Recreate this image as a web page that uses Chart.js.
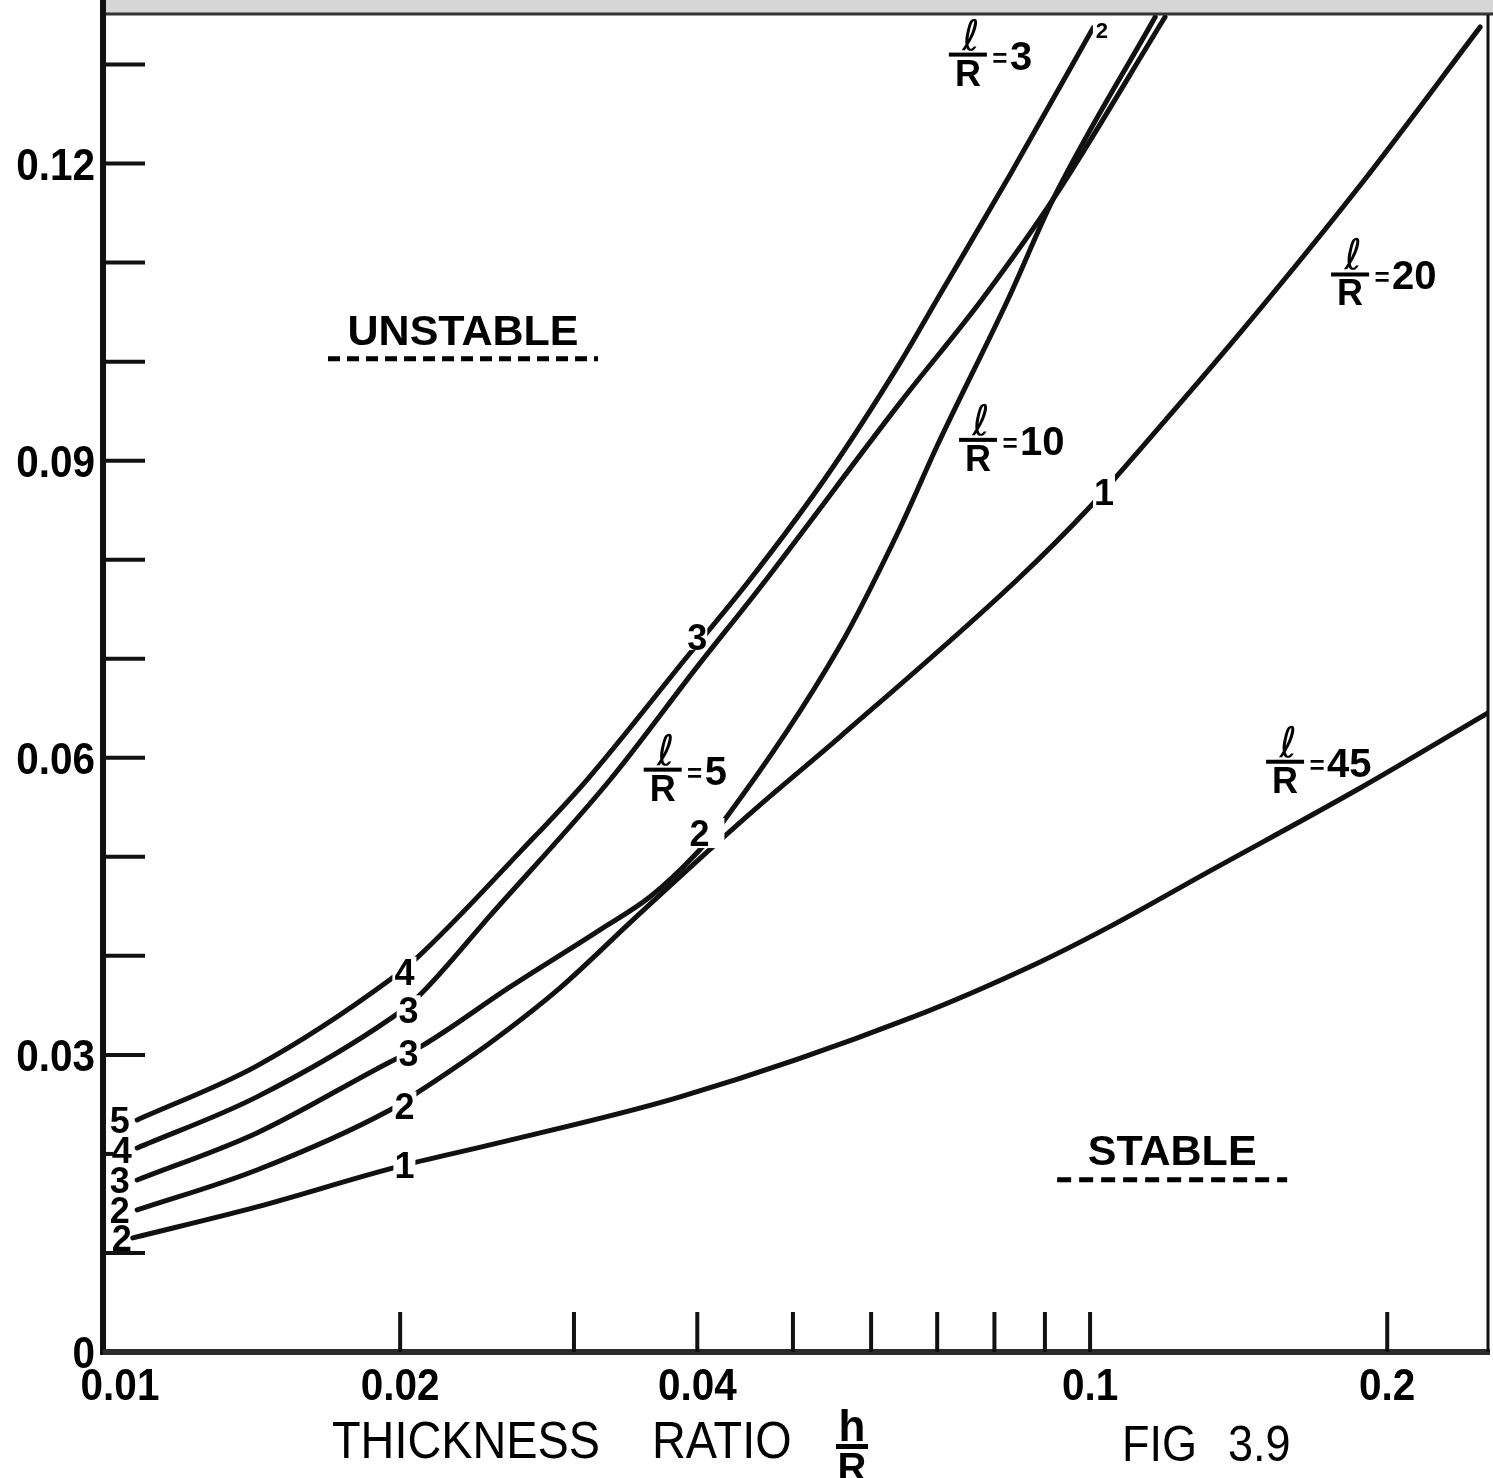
<!DOCTYPE html>
<html>
<head>
<meta charset="utf-8">
<title>Fig 3.9</title>
<script src="https://cdn.jsdelivr.net/npm/chart.js@4.4.0/dist/chart.umd.min.js"></script>
<style>
  html, body { margin: 0; padding: 0; background: #fff; }
  #wrap { width: 1493px; height: 1478px; }
</style>
</head>
<body>
<div id="wrap"><canvas id="fig" width="1493" height="1478"></canvas></div>
<script>
// curves: h/R (log axis) and the stability value
const hR_3  = [0.01083, 0.01432, 0.01953, 0.02085, 0.02646, 0.03093, 0.03906, 0.04524, 0.05389, 0.06421, 0.07, 0.083, 0.1007];
const val_3 = [0.02343, 0.02889, 0.03758, 0.0399, 0.0505, 0.05778, 0.0702, 0.078, 0.0882, 0.0999, 0.1063, 0.1189, 0.1337];

const hR_5  = [0.01083, 0.01432, 0.01967, 0.02085, 0.02466, 0.03264, 0.04, 0.04631, 0.06421, 0.07774, 0.09174, 0.1191];
const val_5 = [0.0206, 0.02576, 0.03384, 0.03586, 0.04404, 0.05778, 0.0692, 0.0772, 0.09586, 0.1063, 0.1164, 0.1348];

const hR_10  = [0.01083, 0.01432, 0.01953, 0.02096, 0.02585, 0.03188, 0.03583, 0.0398, 0.04249, 0.0558, 0.06421, 0.07, 0.08259, 0.09174, 0.1164];
const val_10 = [0.01737, 0.02212, 0.02929, 0.03081, 0.03687, 0.04263, 0.04596, 0.0502, 0.05354, 0.0713, 0.08323, 0.0915, 0.1063, 0.1164, 0.1348];

const hR_20  = [0.01083, 0.01432, 0.01953, 0.0208, 0.02466, 0.02904, 0.03443, 0.0419, 0.04631, 0.0558, 0.08436, 0.1, 0.1072, 0.1419, 0.1864, 0.2485];
const val_20 = [0.01434, 0.01838, 0.02444, 0.02616, 0.03121, 0.03677, 0.04364, 0.05141, 0.05525, 0.06212, 0.07798, 0.08535, 0.08879, 0.1029, 0.1174, 0.1338];

const hR_45  = [0.01072, 0.01432, 0.01986, 0.02466, 0.03843, 0.06619, 0.08899, 0.1055, 0.1301, 0.1864, 0.2561];
const val_45 = [0.01152, 0.01465, 0.01869, 0.02091, 0.02576, 0.03384, 0.03939, 0.04313, 0.04818, 0.05677, 0.06485];

const ratioNames = ['3', '5', '10', '20', '45'];

// axes
const yLabelValues = [0, 0.03, 0.06, 0.09, 0.12];
const yLabelTexts  = ['0', '0.03', '0.06', '0.09', '0.12'];
const yTickValues  = [0.01, 0.02, 0.03, 0.04, 0.05, 0.06, 0.07, 0.08, 0.09, 0.10, 0.11, 0.12, 0.13];
const xLabelValues = [0.01, 0.02, 0.04, 0.1, 0.2];
const xLabelTexts  = ['0.01', '0.02', '0.04', '0.1', '0.2'];
const xTickValues  = [0.02, 0.03, 0.04, 0.05, 0.06, 0.07, 0.08, 0.09, 0.1, 0.2];

// mode numbers written along the curves (text annotations, data coords)
const modeLabels = [
  { t: '5', x: 0.0104, y: 0.0234 },
  { t: '4', x: 0.01045, y: 0.0204 },
  { t: '3', x: 0.0104, y: 0.0174 },
  { t: '2', x: 0.0104, y: 0.0143 },
  { t: '2', x: 0.01045, y: 0.0115 },
  { t: '4', x: 0.0202, y: 0.0384, box: [24, 30] },
  { t: '3', x: 0.0204, y: 0.0345, box: [24, 30] },
  { t: '3', x: 0.0204, y: 0.0302, box: [24, 30] },
  { t: '2', x: 0.0202, y: 0.0248, box: [24, 30] },
  { t: '1', x: 0.0202, y: 0.0189, box: [22, 30] },
  { t: '3', x: 0.04, y: 0.0722, box: [20, 26] },
  { t: '2', x: 0.0402, y: 0.0524, box: [36, 30], dx: 7 },
  { t: '1', x: 0.1033, y: 0.0868, box: [22, 36] },
  { t: '2', x: 0.1028, y: 0.1335, box: [18, 18], size: 22 }
];

// l/R captions: centre of the fraction bar
const ratioCaptions = [
  { n: '3',  x: 0.0752, y: 0.1310 },
  { n: '5',  x: 0.0369, y: 0.0588 },
  { n: '10', x: 0.0770, y: 0.0921 },
  { n: '20', x: 0.1834, y: 0.1088 },
  { n: '45', x: 0.1576, y: 0.0596 }
];

const regionLabels = [
  { t: 'UNSTABLE', x: 0.02316, y: 0.1017, lineY: 0.1003, w: 270, dash: [12, 7] },
  { t: 'STABLE',   x: 0.1211,  y: 0.0189, lineY: 0.0174, w: 230, dash: [14, 8] }
];

const curveX = [hR_3, hR_5, hR_10, hR_20, hR_45];
const curveY = [val_3, val_5, val_10, val_20, val_45];

const FONT = '"Liberation Sans", Arial, sans-serif';

function txt(ctx, s, x, y, font, align, sx) {
  ctx.save();
  ctx.font = font;
  ctx.textAlign = align || 'left';
  ctx.textBaseline = 'alphabetic';
  ctx.translate(x, y);
  ctx.scale(sx || 1, 1);
  ctx.fillText(s, 0, 0);
  ctx.restore();
}

function drawRatio(ctx, cx, cy, num) {
  ctx.fillStyle = '#000';
  ctx.fillRect(cx - 19, cy - 2, 38, 4);
  txt(ctx, 'ℓ', cx + 3, cy - 5, 'italic 42px "DejaVu Sans"', 'center');
  txt(ctx, 'R', cx, cy + 31, 'bold 36px ' + FONT, 'center');
  txt(ctx, '=', cx + 32, cy + 12, 'bold 26px ' + FONT, 'center');
  txt(ctx, num, cx + 42, cy + 15, 'bold 40px ' + FONT, 'left');
}

const paper = {
  id: 'paper',
  beforeDraw(chart) {
    const ctx = chart.ctx;
    ctx.save();
    ctx.fillStyle = '#fff';
    ctx.fillRect(0, 0, chart.width, chart.height);
    ctx.restore();
  },
  afterDraw(chart) {
    const ctx = chart.ctx;
    const xs = chart.scales.x, ys = chart.scales.y;
    const L = xs.getPixelForValue(xs.min), R = xs.getPixelForValue(xs.max);
    const B = ys.getPixelForValue(0), T = ys.getPixelForValue(ys.max);
    ctx.save();

    // mode numbers, with a white gap cut into the line
    modeLabels.forEach(m => {
      const px = xs.getPixelForValue(m.x), py = ys.getPixelForValue(m.y);
      const size = m.size || 36;
      if (m.box) {
        ctx.fillStyle = '#fff';
        ctx.fillRect(px - m.box[0] / 2 + (m.dx || 0), py - m.box[1] / 2, m.box[0], m.box[1]);
      }
      ctx.fillStyle = '#000';
      txt(ctx, m.t, px, py + size * 0.36, 'bold ' + size + 'px ' + FONT, 'center');
    });

    ratioCaptions.forEach(c => {
      drawRatio(ctx, xs.getPixelForValue(c.x), ys.getPixelForValue(c.y), c.n);
    });

    regionLabels.forEach(r => {
      const px = xs.getPixelForValue(r.x);
      ctx.fillStyle = '#000';
      txt(ctx, r.t, px, ys.getPixelForValue(r.y), 'bold 43px ' + FONT, 'center');
      const ly = ys.getPixelForValue(r.lineY);
      ctx.strokeStyle = '#000';
      ctx.lineWidth = 5;
      ctx.setLineDash(r.dash);
      ctx.beginPath();
      ctx.moveTo(px - r.w / 2, ly);
      ctx.lineTo(px + r.w / 2, ly);
      ctx.stroke();
      ctx.setLineDash([]);
    });

    // top edge of the scanned sheet
    ctx.fillStyle = '#d6d6d6';
    ctx.fillRect(L, 0, chart.width - L, T - 2);
    ctx.strokeStyle = '#333';
    ctx.lineWidth = 3;
    ctx.beginPath();
    ctx.moveTo(L, T - 1);
    ctx.lineTo(chart.width, T - 1);
    ctx.stroke();

    // frame
    ctx.strokeStyle = '#111';
    ctx.lineWidth = 6;
    ctx.beginPath();
    ctx.moveTo(L, 0);
    ctx.lineTo(L, B + 3);
    ctx.stroke();
    ctx.strokeStyle = '#2b2b2b';
    ctx.beginPath();
    ctx.moveTo(L, B);
    ctx.lineTo(R + 2, B);
    ctx.stroke();
    ctx.strokeStyle = '#111';
    ctx.lineWidth = 3;
    ctx.beginPath();
    ctx.moveTo(R, T);
    ctx.lineTo(R, B);
    ctx.stroke();

    // inside tick marks (the 0.02 one is short, the mode labels sit on it)
    ctx.lineWidth = 4;
    yTickValues.forEach(v => {
      const py = ys.getPixelForValue(v);
      ctx.beginPath();
      ctx.moveTo(L, py);
      ctx.lineTo(L + (v === 0.02 ? 10 : 42), py);
      ctx.stroke();
    });
    xTickValues.forEach(v => {
      const px = xs.getPixelForValue(v);
      ctx.beginPath();
      ctx.moveTo(px, B);
      ctx.lineTo(px, B - 40);
      ctx.stroke();
    });

    // tick labels
    ctx.fillStyle = '#000';
    yLabelValues.forEach((v, i) => {
      const py = ys.getPixelForValue(v);
      txt(ctx, yLabelTexts[i], L - 8, py + 16, 'bold 44px ' + FONT, 'right', 0.92);
    });
    xLabelValues.forEach((v, i) => {
      const px = xs.getPixelForValue(v) + (i === 0 ? 17 : 0);
      txt(ctx, xLabelTexts[i], px, B + 48, 'bold 44px ' + FONT, 'center', 0.92);
    });

    // axis title and figure number
    txt(ctx, 'THICKNESS', 332, 1458, '52px ' + FONT, 'left', 0.9);
    txt(ctx, 'RATIO', 652, 1458, '52px ' + FONT, 'left', 0.9);
    txt(ctx, 'h', 852, 1441, 'bold 44px ' + FONT, 'center');
    ctx.fillRect(836, 1444, 32, 5);
    txt(ctx, 'R', 852, 1481, 'bold 40px ' + FONT, 'center');
    txt(ctx, 'FIG', 1122, 1461, '50px ' + FONT, 'left', 0.9);
    txt(ctx, '3.9', 1228, 1461, '50px ' + FONT, 'left', 0.9);

    ctx.restore();
  }
};

new Chart(document.getElementById('fig'), {
  type: 'line',
  data: {
    datasets: curveX.map((xsArr, k) => ({
      label: 'ℓ/R = ' + ratioNames[k],
      data: xsArr.map((h, i) => ({ x: h, y: curveY[k][i] })),
      borderColor: '#111',
      borderWidth: 5,
      borderCapStyle: 'round',
      pointRadius: 0,
      fill: false,
      cubicInterpolationMode: 'monotone'
    }))
  },
  options: {
    responsive: false,
    animation: false,
    layout: { padding: { left: 103, right: 5, top: 15, bottom: 126 } },
    plugins: { legend: { display: false }, tooltip: { enabled: false } },
    scales: {
      x: { type: 'logarithmic', min: 0.01, max: 0.253, display: false },
      y: { type: 'linear', min: 0, max: 0.135, display: false }
    }
  },
  plugins: [paper]
});
</script>
</body>
</html>
